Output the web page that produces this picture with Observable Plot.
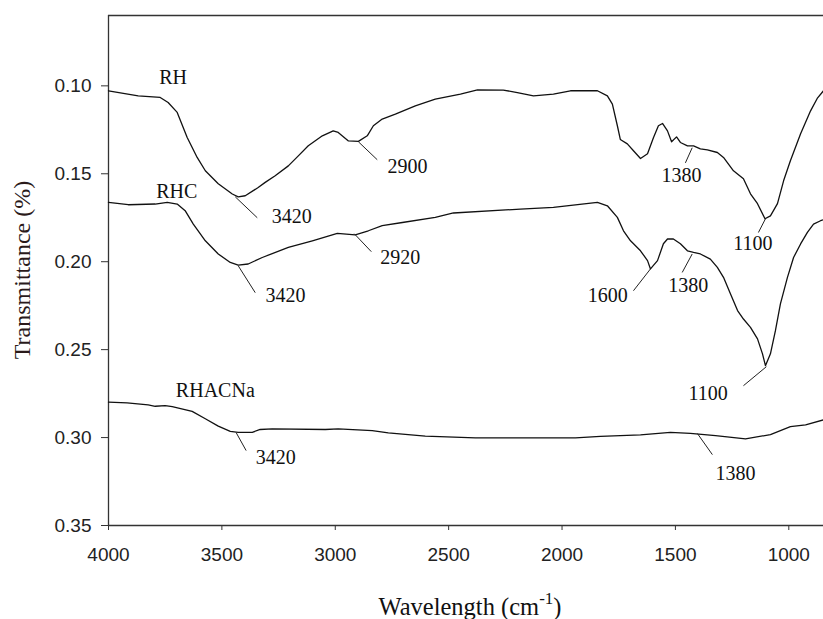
<!DOCTYPE html>
<html><head><meta charset="utf-8">
<script src="https://cdn.jsdelivr.net/npm/d3@7"></script>
<script src="https://cdn.jsdelivr.net/npm/@observablehq/plot@0.6"></script>
<style>
html,body{margin:0;padding:0;background:#fff;}
#chart{width:823px;height:619px;overflow:hidden;}
</style></head><body><div id="chart"></div>
<script>
// ---- data ----
const seriesNames = ["RH", "RHC", "RHACNa"];
const seriesLabelWn = [3715, 3699, 3529];
const seriesLabelT = [0.0955, 0.1602, 0.2733];

const rhWn = [4000,3869,3772,3737,3697,3653,3609,3573,3516,3454,3428,3397,3340,3309,3265,3207,3163,3119,3057,3009,2987,2942,2898,2859,2832,2793,2735,2647,2559,2448,2373,2259,2197,2126,2038,1963,1844,1800,1778,1756,1743,1712,1685,1654,1623,1597,1575,1557,1535,1517,1495,1478,1447,1420,1390,1359,1315,1288,1244,1200,1169,1138,1105,1081,1050,1023,993,948,904,873,847];
const rhT  = [0.1028,0.1057,0.1066,0.1095,0.1151,0.1294,0.1407,0.1483,0.1557,0.1615,0.1631,0.1625,0.1578,0.1549,0.1511,0.1455,0.1398,0.1341,0.1284,0.1256,0.1265,0.1313,0.1316,0.1284,0.1227,0.1189,0.1161,0.1114,0.1076,0.1047,0.1023,0.1024,0.1038,0.1057,0.1047,0.1028,0.1028,0.1057,0.1104,0.1227,0.1305,0.1330,0.1369,0.1413,0.1386,0.1295,0.1227,0.1214,0.1256,0.1318,0.1290,0.1322,0.1341,0.1341,0.1358,0.1364,0.1379,0.1407,0.1483,0.1528,0.1614,0.1670,0.1756,0.1739,0.1670,0.1540,0.1426,0.1273,0.1142,0.1068,0.1028];

const rhcWn = [4000,3913,3794,3741,3697,3662,3626,3573,3516,3463,3428,3384,3322,3207,3101,2991,2912,2854,2793,2704,2559,2479,2184,2038,1844,1800,1756,1729,1698,1654,1623,1610,1579,1553,1535,1509,1478,1447,1420,1390,1346,1315,1288,1257,1226,1200,1169,1138,1116,1103,1081,1059,1037,1006,979,948,918,891,860,847];
const rhcT  = [0.1663,0.1676,0.1672,0.1663,0.1672,0.1710,0.1786,0.1881,0.1956,0.2004,0.2019,0.2013,0.1976,0.1919,0.1881,0.1839,0.1847,0.1824,0.1795,0.1777,0.1748,0.1723,0.1701,0.1691,0.1663,0.1682,0.1748,0.1824,0.1881,0.1938,0.1994,0.2041,0.1994,0.1898,0.1871,0.1871,0.1898,0.1938,0.1947,0.1956,0.1985,0.2032,0.2089,0.2183,0.2278,0.2326,0.2373,0.2439,0.2524,0.2591,0.2524,0.2392,0.2240,0.2089,0.1976,0.1899,0.1833,0.1786,0.1767,0.1761];

const naWn = [4000,3918,3825,3794,3750,3719,3631,3573,3516,3463,3428,3366,3331,3278,3044,2987,2837,2766,2691,2603,2382,1941,1831,1654,1522,1434,1323,1191,1081,993,926,847];
const naT  = [0.2799,0.2803,0.2814,0.2822,0.2818,0.2824,0.2851,0.2893,0.2935,0.2965,0.2970,0.2970,0.2954,0.2951,0.2954,0.2951,0.2960,0.2973,0.2982,0.2992,0.3002,0.3002,0.2993,0.2985,0.2970,0.2976,0.2989,0.3008,0.2983,0.2938,0.2928,0.2899];

// peak annotations: label, point on curve, leader end, label centre
const annLabel  = ["3420","2900","3420","2920","1380","1100","1600","1380","1100","3420","1380"];
const annWn     = [3441,2898,3428,2916,1426,1103,1610,1426,1099,3437,1403];
const annT      = [0.1631,0.1318,0.2023,0.1841,0.1352,0.1756,0.2041,0.1956,0.2597,0.2972,0.2977];
const annEndWn  = [3344,2815,3353,2841,1456,1134,1685,1470,1200,3393,1337];
const annEndT   = [0.1750,0.1420,0.2176,0.1943,0.1438,0.1834,0.2165,0.2061,0.2705,0.3074,0.3097];
const annTextWn = [3192,2682,3220,2713,1473,1158,1798,1443,1356,3262,1235];
const annTextT  = [0.1744,0.1460,0.2193,0.1977,0.1511,0.1896,0.2193,0.2136,0.2750,0.3114,0.3205];

const xTicks = [4000,3500,3000,2500,2000,1500,1000];
const yTicks = [0.10,0.15,0.20,0.25,0.30,0.35];

// ---- build tables ----
const rows = (name, wn, t) => wn.map((w, i) => ({series: name, wn: w, t: t[i]}));
const spectra = [...rows("RH", rhWn, rhT), ...rows("RHC", rhcWn, rhcT), ...rows("RHACNa", naWn, naT)];
const ann = annLabel.map((l, i) => ({label: l, wn: annWn[i], t: annT[i], wn2: annEndWn[i], t2: annEndT[i], tw: annTextWn[i], tt: annTextT[i]}));
const names = seriesNames.map((n, i) => ({name: n, wn: seriesLabelWn[i], t: seriesLabelT[i]}));

const serif = "'Liberation Serif', 'Times New Roman', serif";
const sans = "'Liberation Sans', Arial, sans-serif";

const plot = Plot.plot({
  width: 823, height: 619,
  marginTop: 15, marginBottom: 94, marginLeft: 108, marginRight: 0,
  style: {background: "#fff", overflow: "visible"},
  x: {domain: [4000, 847], label: null},
  y: {domain: [0.06, 0.35], reverse: true, label: null},
  marks: [
    Plot.axisX({ticks: xTicks, tickFormat: d3.format("d"), tickSize: 5, tickPadding: 17, fontSize: 19, fontFamily: sans, fill: "#222", stroke: "#333", label: null}),
    Plot.axisY({ticks: yTicks, tickFormat: d3.format(".2f"), tickSize: 7, tickPadding: 10, fontSize: 19, fontFamily: sans, fill: "#222", stroke: "#333", label: null}),
    Plot.ruleX([4000], {stroke: "#333", strokeWidth: 1.3}),
    Plot.ruleY([0.35], {stroke: "#333", strokeWidth: 1.3}),
    Plot.ruleY([0.06], {stroke: "#333", strokeWidth: 1.3}),
    Plot.line(spectra, {x: "wn", y: "t", z: "series", stroke: "#111", strokeWidth: 1.3, curve: "linear"}),
    Plot.link(ann, {x1: "wn", y1: "t", x2: "wn2", y2: "t2", stroke: "#222", strokeWidth: 1}),
    Plot.text(ann, {x: "tw", y: "tt", text: "label", fontFamily: serif, fontSize: 20, fill: "#111"}),
    Plot.text(names, {x: "wn", y: "t", text: "name", fontFamily: serif, fontSize: 20, fill: "#111"})
  ]
});

const svg = d3.select(plot);
svg.append("text")
  .attr("transform", "translate(30,270) rotate(-90)")
  .attr("text-anchor", "middle")
  .style("font-family", serif).style("font-size", "24px").style("fill", "#2a1a1a")
  .text("Transmittance (%)");
const xt = svg.append("text")
  .attr("x", 470).attr("y", 615)
  .attr("text-anchor", "middle")
  .style("font-family", serif).style("font-size", "24.5px").style("fill", "#111");
xt.append("tspan").text("Wavelength (cm");
xt.append("tspan").attr("dy", -11).style("font-size", "17px").text("-1");
xt.append("tspan").attr("dy", 11).text(")");

document.getElementById("chart").appendChild(plot);
</script></body></html>
